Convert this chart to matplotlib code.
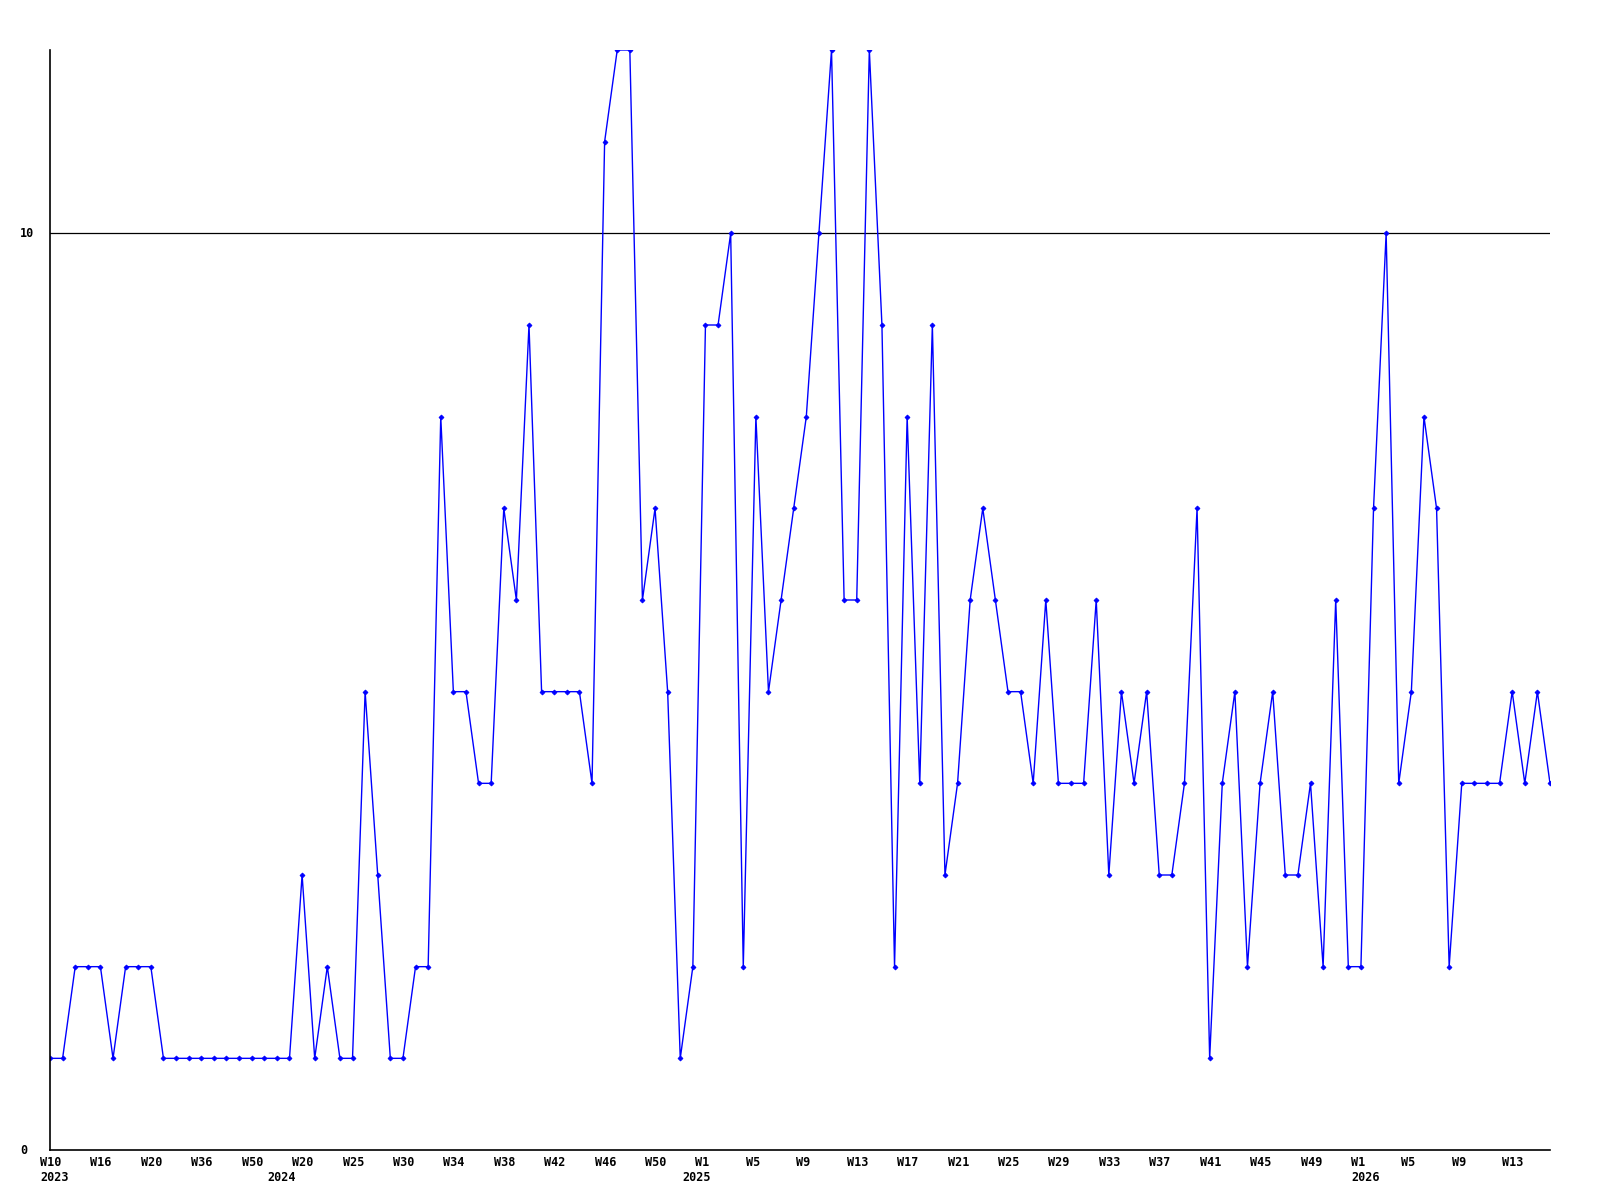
import numpy as np
import matplotlib.pyplot as plt
import matplotlib.transforms as mtransforms

# weekly counts, one value per point (120 weeks)
valores = [1, 1, 2, 2, 2, 1, 2, 2, 2, 1,
           1, 1, 1, 1, 1, 1, 1, 1, 1, 1,
           3, 1, 2, 1, 1, 5, 3, 1, 1, 2,
           2, 8, 5, 5, 4, 4, 7, 6, 9, 5,
           5, 5, 5, 4, 11, 12, 12, 6, 7, 5,
           1, 2, 9, 9, 10, 2, 8, 5, 6, 7,
           8, 10, 12, 6, 6, 12, 9, 2, 8, 4,
           9, 3, 4, 6, 7, 6, 5, 5, 4, 6,
           4, 4, 4, 6, 3, 5, 4, 5, 3, 3,
           4, 7, 1, 4, 5, 2, 4, 5, 3, 3,
           4, 2, 6, 2, 2, 7, 10, 4, 5, 8,
           7, 2, 4, 4, 4, 4, 5, 4, 5, 4]

# one label every 4 points
etiquetas_semana = ['W10', 'W16', 'W20', 'W36', 'W50', 'W20', 'W25', 'W30',
                    'W34', 'W38', 'W42', 'W46', 'W50', 'W1', 'W5', 'W9',
                    'W13', 'W17', 'W21', 'W25', 'W29', 'W33', 'W37', 'W41',
                    'W45', 'W49', 'W1', 'W5', 'W9', 'W13']
paso_etiquetas = 4

# year label and the point index where it starts
anios = ['2023', '2024', '2025', '2026']
anios_indice = [0, 18, 51, 104]

linea_ref = 10
y_max = 12

x = np.arange(len(valores))

fig = plt.figure(figsize=(16, 12), dpi=100)
ax = fig.add_axes([50 / 1600, 50 / 1200, 1500 / 1600, 1100 / 1200])

ax.plot(x, valores, color='#0000ff', linewidth=1.0, marker='D',
        markersize=2.5, markeredgewidth=0.6)
ax.axhline(linea_ref, color='black', linewidth=0.9, zorder=0)

ax.set_xlim(0, len(valores) - 1)
ax.set_ylim(0, y_max)

ax.spines['top'].set_visible(False)
ax.spines['right'].set_visible(False)
ax.spines['left'].set_linewidth(1.2)
ax.spines['bottom'].set_linewidth(1.2)
ax.set_xticks([])
ax.set_yticks([])

fuente = dict(family='DejaVu Sans Mono', fontweight='bold', fontsize=8.5)

# x labels: left aligned, 10 px left of the point
trans_x = ax.get_xaxis_transform() + mtransforms.ScaledTranslation(-10 / 100, 0, fig.dpi_scale_trans)
for k, etiqueta in enumerate(etiquetas_semana):
    ax.text(k * paso_etiquetas, 0, etiqueta, transform=trans_x + mtransforms.ScaledTranslation(0, -6 / 100, fig.dpi_scale_trans),
            ha='left', va='top', **fuente)
for anio, idx in zip(anios, anios_indice):
    ax.text(idx, 0, anio, transform=trans_x + mtransforms.ScaledTranslation(0, -21 / 100, fig.dpi_scale_trans),
            ha='left', va='top', **fuente)

# y labels at 0 and the reference line
trans_y = ax.get_yaxis_transform() + mtransforms.ScaledTranslation(-30 / 100, 0, fig.dpi_scale_trans)
for v in [0, linea_ref]:
    ax.text(0, v, str(v), transform=trans_y, ha='left', va='center', **fuente)

plt.savefig('out.png', dpi=100)
